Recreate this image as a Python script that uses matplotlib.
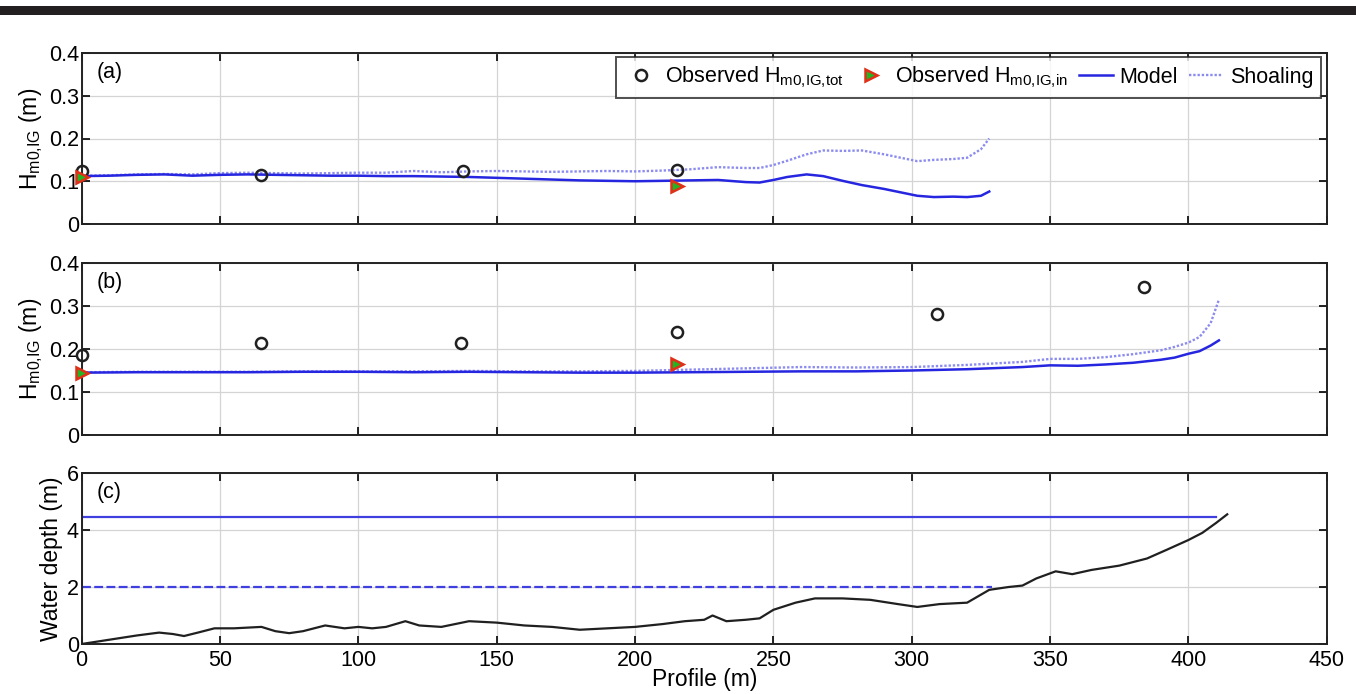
import matplotlib
matplotlib.use("Agg")
import matplotlib.pyplot as plt
from matplotlib.patches import Rectangle

plt.rcParams["font.family"] = ["Liberation Sans", "DejaVu Sans"]
plt.rcParams["mathtext.fontset"] = "custom"
plt.rcParams["mathtext.rm"] = "Liberation Sans"

# Panel (a)
x_a = [0, 10, 20, 30, 40, 50, 60, 70, 80, 90, 100, 110, 120, 130, 140, 150, 160, 170,
       180, 190, 200, 210, 220, 230, 240, 245, 250, 255, 262, 268, 275, 282, 290, 296,
       302, 308, 315, 320, 325, 328]
model_a = [0.112, 0.113, 0.115, 0.116, 0.113, 0.115, 0.116, 0.115, 0.114, 0.113, 0.113,
           0.112, 0.112, 0.111, 0.110, 0.108, 0.106, 0.104, 0.102, 0.101, 0.100, 0.101,
           0.102, 0.103, 0.098, 0.097, 0.103, 0.110, 0.116, 0.112, 0.101, 0.091, 0.082,
           0.074, 0.066, 0.063, 0.064, 0.063, 0.066, 0.076]
shoal_a = [0.113, 0.114, 0.116, 0.117, 0.116, 0.119, 0.120, 0.119, 0.118, 0.119, 0.120,
           0.120, 0.124, 0.121, 0.123, 0.124, 0.123, 0.122, 0.123, 0.124, 0.123, 0.125,
           0.128, 0.133, 0.131, 0.131, 0.138, 0.148, 0.163, 0.172, 0.171, 0.172, 0.163,
           0.155, 0.147, 0.150, 0.152, 0.155, 0.175, 0.200]
obs_tot_x_a = [0, 65, 138, 215]
obs_tot_a = [0.125, 0.114, 0.125, 0.126]
obs_in_x_a = [0, 215]
obs_in_a = [0.110, 0.089]

# Panel (b)
x_b = [0, 20, 40, 60, 80, 100, 120, 140, 160, 180, 200, 220, 240, 260, 280, 300, 320,
       340, 350, 360, 370, 380, 390, 395, 400, 404, 408, 411]
model_b = [0.145, 0.146, 0.146, 0.146, 0.147, 0.147, 0.146, 0.147, 0.146, 0.145, 0.145,
           0.146, 0.147, 0.148, 0.148, 0.150, 0.153, 0.158, 0.162, 0.161, 0.164, 0.168,
           0.175, 0.180, 0.189, 0.195, 0.208, 0.220]
shoal_b = [0.146, 0.147, 0.147, 0.147, 0.148, 0.148, 0.148, 0.149, 0.148, 0.148, 0.149,
           0.152, 0.155, 0.158, 0.157, 0.158, 0.163, 0.170, 0.177, 0.177, 0.181, 0.188,
           0.197, 0.205, 0.215, 0.228, 0.260, 0.315]
obs_tot_x_b = [0, 65, 137, 215, 309, 384]
obs_tot_b = [0.185, 0.214, 0.214, 0.240, 0.282, 0.344]
obs_in_x_b = [0, 215]
obs_in_b = [0.145, 0.166]

# Panel (c)
x_c = [0, 10, 20, 28, 33, 37, 42, 48, 55, 65, 70, 75, 80, 88, 95, 100, 105, 110, 117,
       122, 130, 135, 140, 150, 160, 170, 180, 190, 200, 210, 218, 225, 228, 233, 240,
       245, 250, 258, 265, 275, 285, 295, 302, 310, 320, 328, 335, 340, 345, 352, 358,
       365, 375, 385, 392, 400, 405, 410, 414]
depth_c = [0.0, 0.15, 0.3, 0.4, 0.35, 0.28, 0.4, 0.55, 0.55, 0.6, 0.45, 0.38, 0.45, 0.65,
           0.55, 0.6, 0.55, 0.6, 0.8, 0.65, 0.6, 0.7, 0.8, 0.75, 0.65, 0.6, 0.5, 0.55,
           0.6, 0.7, 0.8, 0.85, 1.0, 0.8, 0.85, 0.9, 1.2, 1.45, 1.6, 1.6, 1.55, 1.4, 1.3,
           1.4, 1.45, 1.9, 2.0, 2.05, 2.3, 2.55, 2.45, 2.6, 2.75, 3.0, 3.3, 3.65, 3.9,
           4.25, 4.55]
level_hi_x = [0, 410]
level_hi = [4.45, 4.45]
level_lo_x = [0, 329]
level_lo = [2.0, 2.0]

BLUE = "#2626e0"
LIGHT = "#8c8cf0"
FS_TICK = 15.5
FS_LAB = 16.5
FS_LEG = 15.5

fig = plt.figure(figsize=(13.56, 6.94), dpi=100)
fig.patches.append(Rectangle((0, 1 - 15 / 694), 1, 9 / 694, transform=fig.transFigure,
                             facecolor="#231f20", edgecolor="none"))

left, width = 0.0602, 0.9183
ax_a = fig.add_axes([left, 1 - 224 / 694, width, 171 / 694])
ax_b = fig.add_axes([left, 1 - 435 / 694, width, 172 / 694])
ax_c = fig.add_axes([left, 1 - 644 / 694, width, 171 / 694])


def style(ax):
    ax.set_xlim(0, 450)
    ax.set_xticks(range(0, 451, 50))
    ax.grid(True, color="#d4d4d4", linewidth=0.9)
    ax.set_axisbelow(True)
    ax.tick_params(direction="in", length=6, width=1.2, top=True, right=True,
                   labelsize=FS_TICK, pad=2)
    ax.tick_params(axis="x", pad=4)
    for s in ax.spines.values():
        s.set_linewidth(1.4)
        s.set_color("#222222")


for ax, x, m, sh, ox, oy, ix, iy, tag in [
        (ax_a, x_a, model_a, shoal_a, obs_tot_x_a, obs_tot_a, obs_in_x_a, obs_in_a, "(a)"),
        (ax_b, x_b, model_b, shoal_b, obs_tot_x_b, obs_tot_b, obs_in_x_b, obs_in_b, "(b)")]:
    style(ax)
    h_sh, = ax.plot(x, sh, color=LIGHT, linestyle=(0, (1, 0.8)), linewidth=1.7,
                    label="Shoaling")
    h_m, = ax.plot(x, m, color=BLUE, linewidth=1.8, label="Model")
    h_tot, = ax.plot(ox, oy, "o", markerfacecolor="none", markeredgecolor="#202020",
                     markeredgewidth=1.8, markersize=8, linestyle="none", clip_on=False,
                     zorder=5, label=r"Observed H$_{\rm m0{,}IG{,}tot}$")
    h_in, = ax.plot(ix, iy, ">", markerfacecolor="#22b422", markeredgecolor="#e03018",
                    markeredgewidth=1.8, markersize=9, linestyle="none", clip_on=False,
                    zorder=6, label=r"Observed H$_{\rm m0{,}IG{,}in}$")
    ax.set_ylim(0, 0.4)
    ax.set_yticks([0, 0.1, 0.2, 0.3, 0.4])
    ax.set_yticklabels(["0", "0.1", "0.2", "0.3", "0.4"])
    ax.set_xticklabels([])
    ax.set_ylabel(r"H$_{\rm m0{,}IG}$ (m)", fontsize=FS_LAB, labelpad=3)
    ax.text(0.012, 0.95, tag, transform=ax.transAxes, fontsize=FS_TICK, va="top",
            ha="left")
    if tag == "(a)":
        leg = ax.legend([h_tot, h_in, h_m, h_sh],
                        [h_tot.get_label(), h_in.get_label(), "Model", "Shoaling"],
                        loc="upper right", bbox_to_anchor=(0.995, 0.975), borderaxespad=0,
                        ncol=4, fontsize=FS_LEG, frameon=True, fancybox=False,
                        handlelength=1.6, handletextpad=0.3, columnspacing=0.5,
                        borderpad=0.35)
        leg.get_frame().set_edgecolor("#222222")
        leg.get_frame().set_linewidth(1.4)
        leg.set_zorder(10)

style(ax_c)
ax_c.plot(level_hi_x, level_hi, color="#4040e0", linewidth=1.6)
ax_c.plot(level_lo_x, level_lo, color="#4040e0", linewidth=1.6, linestyle=(0, (4, 1.5)))
ax_c.plot(x_c, depth_c, color="#202020", linewidth=1.6)
ax_c.set_ylim(0, 6)
ax_c.set_yticks([0, 2, 4, 6])
ax_c.set_ylabel("Water depth (m)", fontsize=FS_LAB, labelpad=3)
ax_c.set_xlabel("Profile (m)", fontsize=FS_LAB, labelpad=-2)
ax_c.text(0.012, 0.95, "(c)", transform=ax_c.transAxes, fontsize=FS_TICK, va="top",
          ha="left")

fig.savefig("out.png", dpi=100)
